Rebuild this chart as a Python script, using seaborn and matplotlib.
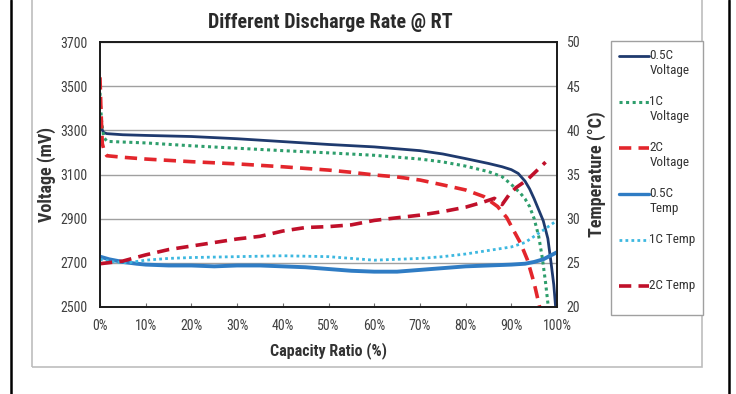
import matplotlib
matplotlib.use("Agg")
import matplotlib.pyplot as plt
from matplotlib import font_manager
from matplotlib.lines import Line2D
from matplotlib.patches import Rectangle
from matplotlib.legend_handler import HandlerLine2D
from matplotlib.ticker import FuncFormatter
import seaborn as sns
import numpy as np

# ---------------- data ----------------
v05_x = [0, 0.3, 0.8, 1.5, 5, 10, 20, 30, 40, 50, 60, 70, 75, 80, 85, 88, 90, 91.5, 93, 94, 95, 96, 97, 98, 98.7, 99.3, 99.7]
v05_y = [3345, 3310, 3290, 3285, 3280, 3277, 3272, 3262, 3249, 3236, 3225, 3208, 3193, 3172, 3150, 3135, 3122, 3105, 3070, 3035, 2990, 2940, 2890, 2810, 2700, 2600, 2500]

v1_x = [0, 0.3, 0.8, 1.5, 5, 10, 20, 30, 40, 50, 60, 70, 75, 80, 85, 88, 90, 92, 93, 94, 95, 96, 96.8, 97.5, 98.1]
v1_y = [3470, 3350, 3270, 3250, 3247, 3243, 3230, 3219, 3208, 3198, 3187, 3170, 3157, 3138, 3113, 3090, 3055, 3015, 2990, 2955, 2900, 2820, 2720, 2610, 2500]

v2_x = [0, 0.2, 0.5, 1, 1.5, 5, 10, 20, 30, 40, 50, 55, 60, 65, 70, 75, 80, 84, 87, 89, 90, 92, 93.5, 95, 96.2]
v2_y = [3540, 3400, 3240, 3200, 3185, 3178, 3170, 3158, 3148, 3135, 3120, 3110, 3098, 3089, 3075, 3053, 3030, 3000, 2955, 2905, 2866, 2790, 2715, 2608, 2500]

t05_x = [0, 2, 5, 8, 10, 15, 20, 25, 30, 35, 40, 45, 50, 55, 60, 65, 70, 75, 80, 85, 90, 93, 95, 97, 100]
t05_y = [25.7, 25.4, 25.1, 24.9, 24.8, 24.7, 24.7, 24.6, 24.7, 24.7, 24.6, 24.5, 24.3, 24.1, 24.0, 24.0, 24.2, 24.4, 24.6, 24.7, 24.8, 24.9, 25.1, 25.4, 26.2]

t1_x = [0, 3, 6, 10, 15, 20, 30, 40, 50, 55, 60, 65, 70, 75, 80, 85, 90, 93, 95, 97, 100]
t1_y = [25.4, 25.1, 25.0, 25.3, 25.5, 25.6, 25.7, 25.8, 25.7, 25.5, 25.3, 25.4, 25.5, 25.7, 26.0, 26.4, 26.8, 27.3, 28.0, 28.7, 29.8]

t2_x = [0, 5, 10, 15, 20, 25, 30, 35, 40, 45, 50, 55, 60, 65, 70, 75, 80, 84, 86.3, 88, 89.5, 91, 93.5, 95.5, 97.5]
t2_y = [24.9, 25.2, 25.9, 26.5, 26.9, 27.3, 27.7, 28.0, 28.6, 29.0, 29.1, 29.3, 29.8, 30.1, 30.4, 30.8, 31.3, 31.9, 32.3, 31.6, 32.7, 33.5, 34.4, 35.4, 36.4]

labels = ["0.5C\nVoltage", "1C\nVoltage", "2C\nVoltage", "0.5C\nTemp", "1C Temp\n ", "2C Temp\n "]
x_ticks = list(range(0, 101, 10))
title = "Different Discharge Rate @ RT"

# ---------------- style ----------------
sns.set_theme(style="white")
fam = "DejaVu Sans"
for cand in ["Liberation Sans Narrow", "Roboto Condensed", "Liberation Sans"]:
    try:
        font_manager.findfont(cand, fallback_to_default=False)
        fam = cand
        break
    except Exception:
        pass
plt.rcParams["font.family"] = [fam, "DejaVu Sans"]

fig = plt.figure(figsize=(7.36, 3.94), dpi=100)
W, H = 736, 394

# outer decorations
fig.add_artist(Line2D([11 / W, 11 / W], [0, 1], color="black", lw=1.8, transform=fig.transFigure))
fig.add_artist(Line2D([729 / W, 729 / W], [0, 1], color="black", lw=1.8, transform=fig.transFigure))
fig.add_artist(Rectangle((32 / W, 1 - 367 / H), (702 - 32) / W, 367 / H + 0.05, fill=False,
                         edgecolor="#bdbdbd", lw=1.2, transform=fig.transFigure))

ax = fig.add_axes([100 / W, 1 - 307 / H, (557 - 100) / W, (307 - 42) / H])
ax2 = ax.twinx()

c_v05, c_v1, c_v2 = "#1f3a6e", "#2e9e6c", "#e3262c"
c_t05, c_t1, c_t2 = "#2f7cc4", "#3db8e0", "#c0102a"
dots = (0, (1, 1.15))
dash = (0, (3.4, 2.0))

sns.lineplot(x=v05_x, y=v05_y, ax=ax, color=c_v05, lw=2.0, sort=False, estimator=None)
sns.lineplot(x=v1_x, y=v1_y, ax=ax, color=c_v1, lw=2.2, linestyle=dots, sort=False, estimator=None)
sns.lineplot(x=v2_x, y=v2_y, ax=ax, color=c_v2, lw=2.6, linestyle=dash, sort=False, estimator=None)
sns.lineplot(x=t05_x, y=t05_y, ax=ax2, color=c_t05, lw=2.8, sort=False, estimator=None)
sns.lineplot(x=t1_x, y=t1_y, ax=ax2, color=c_t1, lw=2.0, linestyle=dots, sort=False, estimator=None)
sns.lineplot(x=t2_x, y=t2_y, ax=ax2, color=c_t2, lw=2.6, linestyle=dash, sort=False, estimator=None)

ax.set_xlim(0, 100)
ax.set_ylim(2500, 3700)
ax2.set_ylim(20, 50)
ax.set_yticks(range(2500, 3701, 200))
ax2.set_yticks(range(20, 51, 5))
ax.set_xticks(x_ticks)
ax.xaxis.set_major_formatter(FuncFormatter(lambda v, p: f"{int(v)}%"))

ax.grid(axis="y", color="#a0a0a0", lw=1.0)
ax.grid(axis="x", visible=False)
ax2.grid(False)
for a in (ax, ax2):
    for s in a.spines.values():
        s.set_color("#1a1a1a")
        s.set_linewidth(1.2)

tick_col = "#404040"
ax.tick_params(axis="y", length=0, pad=9, labelsize=10, labelcolor=tick_col)
ax2.tick_params(axis="y", length=0, pad=7, labelsize=10, labelcolor=tick_col)
ax.tick_params(axis="x", direction="in", length=3, width=0.8, color="#707070", pad=9,
               labelsize=10, labelcolor=tick_col, bottom=True)

ax.set_xlabel("Capacity Ratio (%)", fontsize=11.5, fontweight="bold", color="#333333", labelpad=6)
ax.set_ylabel("Voltage (mV)", fontsize=13, fontweight="bold", color="#333333", labelpad=3)
ax2.set_ylabel("Temperature (°C)", fontsize=13, fontweight="bold", color="#333333", labelpad=5)
fig.text(330 / W, 1 - 22 / H, title, ha="center", va="center", fontsize=14.5,
         fontweight="bold", color="#2a2a2a")

# legend
class UpHandler(HandlerLine2D):
    def __init__(self, shift=0.0, **kw):
        super().__init__(**kw)
        self.shift = shift

    def create_artists(self, legend, orig_handle, xdescent, ydescent, width, height, fontsize, trans):
        arts = super().create_artists(legend, orig_handle, xdescent, ydescent, width, height, fontsize, trans)
        for a in arts:
            yd = np.asarray(a.get_ydata(), dtype=float)
            a.set_ydata(yd + self.shift * fontsize)
        return arts

h = [Line2D([], [], color=c_v05, lw=2.0),
     Line2D([], [], color=c_v1, lw=2.2, linestyle=dots),
     Line2D([], [], color=c_v2, lw=2.6, linestyle=dash),
     Line2D([], [], color=c_t05, lw=2.4),
     Line2D([], [], color=c_t1, lw=2.0, linestyle=dots),
     Line2D([], [], color=c_t2, lw=2.6, linestyle=dash)]
hmap = {hh: UpHandler(shift=0.55) for hh in h}
leg = fig.legend(h, labels, loc="upper left", bbox_to_anchor=(611 / W, 1 - 41 / H),
                 bbox_transform=fig.transFigure, fontsize=9.5, frameon=True, fancybox=False,
                 edgecolor="#a0a0a0", handlelength=2.3, handletextpad=0.0, labelspacing=1.36,
                 borderpad=0.6, borderaxespad=0, handler_map=hmap, framealpha=1)
leg.get_frame().set_linewidth(1.0)
for t in leg.get_texts():
    t.set_color("#333333")

fig.savefig("out.png", dpi=100)
